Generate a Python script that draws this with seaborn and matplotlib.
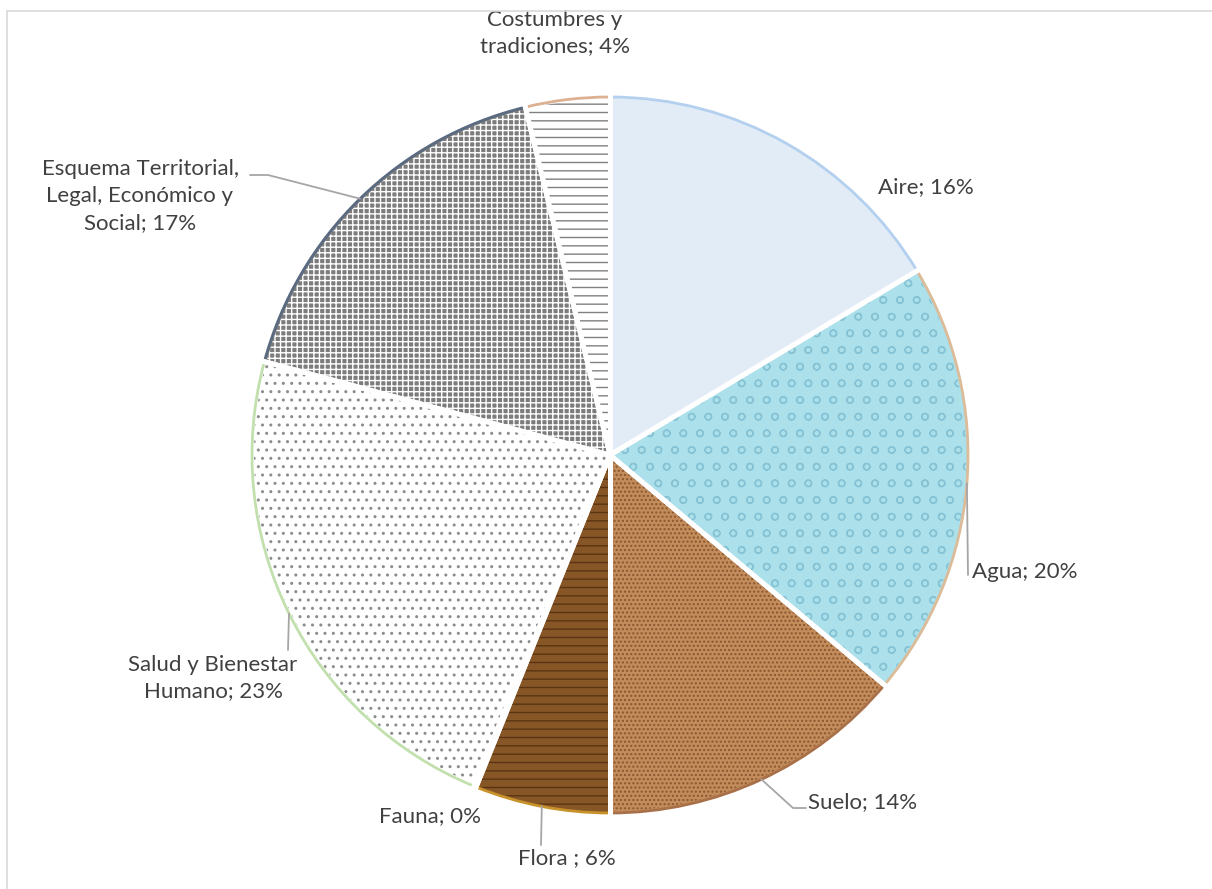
import matplotlib
matplotlib.use("Agg")
import numpy as np
import matplotlib.pyplot as plt
import seaborn as sns
from matplotlib.lines import Line2D

# data (clockwise from 12 o'clock)
categories = ["Aire", "Agua", "Suelo", "Flora ", "Fauna",
              "Salud y Bienestar\nHumano",
              "Esquema Territorial,\nLegal, Económico y\nSocial",
              "Costumbres y\ntradiciones"]
shares = [16.4, 19.7, 13.9, 6.1, 0.1, 23.0, 17.0, 3.8]

# look of each slice (textures approximated with hatches)
face_colors = ["#e2ecf7", "#ace0eb", "#c38c5b", "#875626", "#7a9a50",
               "#ffffff", "#7c7c7c", "#ffffff"]
edge_colors = ["#b3d0ee", "#dbbb98", "#a87048", "#c8922a", "#7a9a50",
               "#c2e0ad", "#5a6a80", "#ddb092"]
hatches = [None, "o", "....", "--", None, "..", "+++", "--"]
hatch_colors = ["#c8d9ee", "#86c3d5", "#8a5630", "#5a3412", "#7a9a50",
                "#8c8c8c", "#ffffff", "#808080"]

W, H = 1212, 889
sns.set_theme(style="white")
plt.rcParams["font.family"] = ["Lato", "DejaVu Sans"]
plt.rcParams["hatch.linewidth"] = 1.0

fig = plt.figure(figsize=(W / 100, H / 100), dpi=100)
ax = fig.add_axes([0, 0, 1, 1])

cx, cy, R = 610, H - 455, 358

wedges, _ = ax.pie(shares, colors=face_colors, startangle=90, counterclock=False,
                   center=(cx, cy), radius=R, frame=True,
                   wedgeprops=dict(linewidth=2))
for w, ec in zip(wedges, edge_colors):
    w.set_edgecolor(ec)

over, _ = ax.pie(shares, colors=["none"] * len(shares), startangle=90,
                 counterclock=False, center=(cx, cy), radius=R - 2, frame=True,
                 wedgeprops=dict(linewidth=0))
for w, h, hc in zip(over, hatches, hatch_colors):
    if h:
        w.set_hatch(h)
        w.set_edgecolor(hc)

# white gaps between slices
for w in wedges:
    for t in (w.theta1, w.theta2):
        a = np.deg2rad(t)
        ax.plot([cx, cx + (R + 3) * np.cos(a)], [cy, cy + (R + 3) * np.sin(a)],
                color="white", lw=3.5, solid_capstyle="butt", zorder=5)

# label layout in pixel coords (x, y from top), alignment, leader elbows
def px(x, y):
    return x, H - y

label_pos = [(878, 187, "left"), (972, 572, "left"), (808, 802, "left"),
             (567, 858, "center"), (430, 816, "center"), (213, 678, "center"),
             (140, 196, "center"), (555, 33, "center")]
leaders = {1: [(968, 575)], 2: [(793, 808), (806, 808)], 3: [(541, 845)],
           5: [(288, 650)], 6: [(268, 175), (250, 175)]}

for i, (name, v) in enumerate(zip(categories, shares)):
    x, y, ha = label_pos[i]
    ax.text(*px(x, y), f"{name}; {round(v)}%", ha=ha, va="center",
            multialignment="center", fontsize=16, color="#404040",
            linespacing=1.42, zorder=6)
    if i in leaders:
        mid = np.deg2rad((wedges[i].theta1 + wedges[i].theta2) / 2)
        xs = [cx + R * np.cos(mid)] + [px(*p)[0] for p in leaders[i]]
        ys = [cy + R * np.sin(mid)] + [px(*p)[1] for p in leaders[i]]
        ax.plot(xs, ys, color="#a6a6a6", lw=1.3, zorder=4)

ax.set_xlim(0, W)
ax.set_ylim(0, H)
ax.set_aspect("equal")
ax.axis("off")

# thin frame of the chart area
fig.add_artist(Line2D([7 / W, 1], [1 - 11 / H] * 2, transform=fig.transFigure,
                      color="#d9d9d9", lw=1.2))
fig.add_artist(Line2D([7 / W] * 2, [0, 1 - 11 / H], transform=fig.transFigure,
                      color="#d9d9d9", lw=1.2))

fig.savefig("out.png", dpi=100, facecolor="white")
